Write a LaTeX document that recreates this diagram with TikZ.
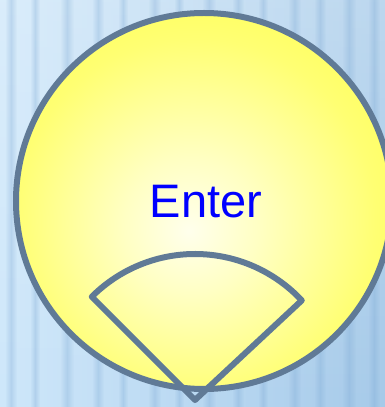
\documentclass[tikz,border=0pt]{standalone}
\usepackage{fontspec}
\setmainfont{Liberation Sans}
\usetikzlibrary{fadings}
\definecolor{bgL}{RGB}{206,231,250}
\definecolor{bgR}{RGB}{166,202,233}
\definecolor{stripe}{RGB}{120,165,210}
\definecolor{edgec}{RGB}{96,122,150}
\definecolor{sunA}{RGB}{255,255,236}
\definecolor{sunB}{RGB}{255,255,195}
\definecolor{sunM}{RGB}{255,255,115}
\definecolor{sunC}{RGB}{255,255,68}
\definecolor{txtblue}{RGB}{0,0,255}
\pgfdeclareradialshading{sunshade}{\pgfpoint{-2bp}{-4bp}}{color(0bp)=(sunA); color(9bp)=(sunB); color(24bp)=(sunM); color(38bp)=(sunC); color(60bp)=(sunC)}
\tikzfading[name=softstripe, left color=transparent!100, right color=transparent!100, middle color=transparent!0]
\tikzset{
  outline/.style={draw=edgec, line width=6pt},
  fan/.style={draw=edgec, line width=6pt, line join=round},
  label/.style={text=txtblue, font=\fontsize{47}{56}\selectfont, inner sep=0pt, anchor=base}
}
\begin{document}
\begin{tikzpicture}[x=1pt,y=1pt]
\useasboundingbox (0,0) rectangle (385,407);
% background
\shade[left color=bgL, right color=bgR] (0,0) rectangle (385,407);
\fill[white, opacity=0.25, path fading=south] (0,0) rectangle (385,407);
\foreach \x/\w in {5/12,30/10,60/14,92/12,118/10,148/13,174/10,202/14,232/12,258/10,288/13,314/12,342/14,368/12}{
  \fill[stripe, opacity=0.3, path fading=softstripe] (\x,0) rectangle ++(\w,407);
}
% sun
\coordinate (c) at (204,206);
\shade[shading=sunshade] (c) circle[radius=188];
\draw[outline] (c) circle[radius=188];
% text
\node[label] (enter) at (206,189) {Enter};
% fan
\coordinate (apex) at (195,7);
\draw[fan] (apex) -- ++(43:146) arc[start angle=43, end angle=135, radius=146] -- cycle;
\end{tikzpicture}
\end{document}
